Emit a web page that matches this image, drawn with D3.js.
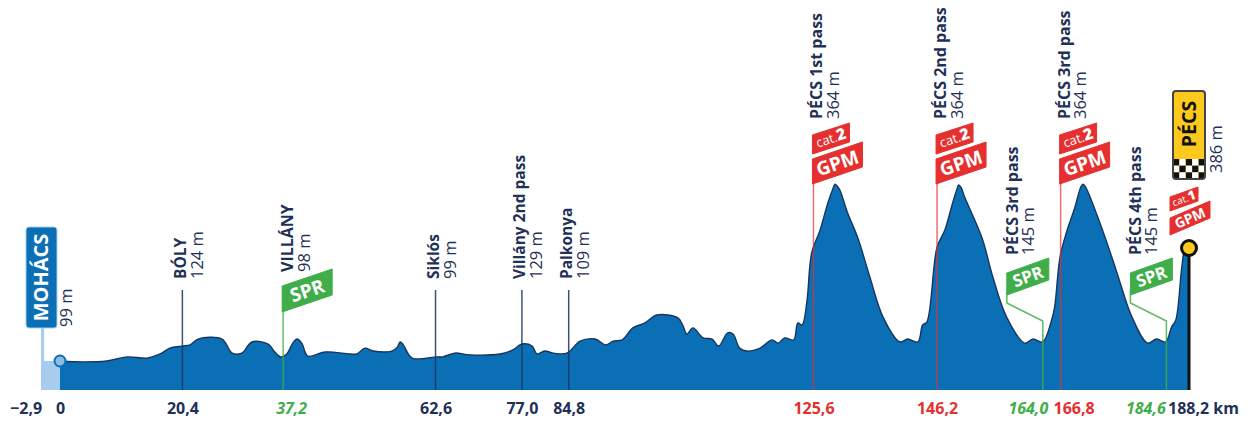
<!DOCTYPE html>
<html>
<head>
<meta charset="utf-8">
<script src="https://cdn.jsdelivr.net/npm/d3@7"></script>
<style>
  html, body { margin: 0; padding: 0; background: #fff; }
  svg { display: block; }
  text { font-family: "Open Sans", "Noto Sans", sans-serif; }
  .axis-label text { font-size: 16px; font-weight: 700; }
</style>
</head>
<body>
<div id="profile"></div>
<script>
// profile
var profileKm = [0, 3.8, 7.8, 11.2, 14.5, 16.7, 18.3, 20.3, 21.7, 23, 27, 28.7, 30.3, 32, 34.7, 35.8, 36.8, 37.8, 38.8, 39.5, 40.3,
  41.3, 44.2, 48.3, 49.5, 50.8, 52.2, 55.3, 56.2, 56.7, 57.2, 58.7, 62.8, 63.8, 65.8, 68.3, 73.3, 75.5, 77, 78.7, 79.5, 80.8, 82.2,
  84.5, 86.7, 89.2, 91, 92.2, 93.7, 95.5, 97.5, 99.5, 103, 103.8, 104.5, 105.5, 107.2, 108.7, 109.8, 111.3, 112.2, 113.3, 114.5,
  116.7, 118.7, 119.7, 120.8, 122.3, 123, 123.7, 124.5, 125.3, 126.7, 128, 128.8, 129.2, 129.6, 130, 131.3, 133, 135, 137.2, 140, 141.3, 143,
  143.8, 144.5, 146.2, 147.5, 148.8, 149.5, 149.8, 150.2, 150.8, 153.7, 155.5, 157.8, 160.8, 162.2, 163.8, 165.3, 165.8, 166.7, 167.8, 169.2, 170.1, 170.5, 170.9, 171.7,
  174.2, 176.2, 178.7, 181.3, 182.8, 184.3, 185.3, 186, 187, 187.5, 188.2];
var profileElev = [99, 96, 99, 113, 109, 123, 143, 150, 154, 174, 174, 126, 126, 164, 157, 130, 113, 123, 160, 174, 160,
  116, 130, 123, 123, 143, 133, 133, 145, 164, 155, 109, 113, 113, 126, 120, 123, 137, 157, 150, 123, 133, 126,
  126, 167, 174, 154, 167, 171, 212, 229, 256, 246, 222, 191, 212, 178, 174, 150, 195, 191, 143, 133,
  143, 171, 160, 178, 171, 229, 222, 301, 468, 546, 639, 685, 703, 695, 683, 604, 519, 386, 249, 164, 174, 164,
  222, 232, 488, 546, 639, 685, 700, 692, 659, 519, 386, 249, 160, 174, 164, 239, 283, 454, 540, 625, 690, 703, 695, 659,
  522, 400, 249, 160, 174, 164, 215, 239, 420, 478, 488];

var tickKm = [-2.9, 0, 20.4, 37.2, 62.6, 77.0, 84.8, 125.6, 146.2, 164.0, 166.8, 184.6, 188.2];
var tickText = ["−2,9", "0", "20,4", "37,2", "62,6", "77,0", "84,8", "125,6", "146,2", "164,0", "166,8", "184,6", "188,2 km"];
var tickKind = ["plain", "plain", "plain", "spr", "plain", "plain", "plain", "gpm", "gpm", "spr", "gpm", "spr", "plain"];

var pointKm = [20.4, 37.2, 62.6, 77.0, 84.8, 125.6, 146.2, 164.0, 166.8, 184.6];
var pointName = ["BÓLY", "VILLÁNY", "Siklós", "Villány 2nd pass", "Palkonya", "PÉCS 1st pass", "PÉCS 2nd pass", "PÉCS 3rd pass", "PÉCS 3rd pass", "PÉCS 4th pass"];
var pointElev = ["124 m", "98 m", "99 m", "129 m", "109 m", "364 m", "364 m", "145 m", "364 m", "145 m"];
var pointKind = ["plain", "spr", "plain", "plain", "plain", "gpm", "gpm", "sprBent", "gpm", "sprBent"];

var startKm = -2.9, startName = "MOHÁCS", startElev = "99 m";
var finishKm = 188.2, finishName = "PÉCS", finishElev = "386 m";

var NAVY = "#1f3157", BLUE = "#0b6fb6", DARK = "#17365f", LIGHT = "#a6cdee",
    RED = "#e5302f", GREEN = "#3fae4a", YELLOW = "#fdc91c";

var width = 1250, height = 424;
var svg = d3.select("#profile").append("svg").attr("width", width).attr("height", height);

var x = d3.scaleLinear().domain([0, 188.2]).range([60, 1189]);
var y = d3.scaleLinear().domain([0, 700]).range([390, 185]);

// light lead-in before km 0
svg.append("rect").attr("x", x(startKm) - 1.5).attr("y", y(99)).attr("width", x(0) - x(startKm) + 1.5).attr("height", y(0) - y(99)).attr("fill", LIGHT);
svg.append("rect").attr("x", x(startKm) - 1.5).attr("y", 328).attr("width", 3).attr("height", 62).attr("fill", LIGHT);

var idx = d3.range(profileKm.length);
var curve = d3.curveCatmullRom.alpha(0.5);
svg.append("path")
  .attr("d", d3.area().x(function(i) { return x(profileKm[i]); }).y0(y(0)).y1(function(i) { return y(profileElev[i]); }).curve(curve)(idx))
  .attr("fill", BLUE);
svg.append("path")
  .attr("d", d3.line().x(function(i) { return x(profileKm[i]); }).y(function(i) { return y(profileElev[i]); }).curve(curve)(idx))
  .attr("fill", "none").attr("stroke", DARK).attr("stroke-width", 1.4).attr("stroke-linejoin", "round");

// rotated label helper
function vtext(px, py, str, size, weight, fill, anchor) {
  return svg.append("text")
    .attr("transform", "translate(" + px + "," + py + ") rotate(-90)")
    .attr("text-anchor", anchor || "start")
    .attr("font-size", size).attr("font-weight", weight).attr("fill", fill)
    .text(str);
}

// slanted flag, left edge at fx, bl = y of the bottom left corner
function flag(fx, bl, w, h, rise, fill, str, size, italic) {
  svg.append("path")
    .attr("d", "M" + fx + "," + bl + "L" + fx + "," + (bl - h) + "L" + (fx + w) + "," + (bl - h - rise) + "L" + (fx + w) + "," + (bl - rise) + "Z")
    .attr("fill", fill).attr("stroke", fill).attr("stroke-width", 1).attr("stroke-linejoin", "round");
  var a = Math.atan(rise / w) * 180 / Math.PI;
  var t = svg.append("text")
    .attr("transform", "translate(" + (fx + w / 2) + "," + (bl - h / 2 - rise / 2) + ") rotate(" + (-a) + ")")
    .attr("text-anchor", "middle").attr("dy", "0.36em")
    .attr("font-size", size).attr("font-weight", 700).attr("fill", "#fff");
  if (italic) {
    // "cat." is light, the number after it is heavy
    t.append("tspan").attr("font-weight", 400).text(str.slice(0, 4));
    t.append("tspan").attr("font-weight", 800).attr("font-size", size + 3).text(str.slice(4));
  } else {
    t.text(str);
  }
}

function gpm(px, num) {
  flag(px - 1, 184, 50, 25, 17, RED, "GPM", 19);
  flag(px - 1, 154, 37, 19, 12, RED, num, 13, true);
}

// label offsets: [name x, elevation x, bottom y, name size]
var labelPos = {
  plain: [3.5, 20.5, 279, 15.5], spr: [10, 27, 272, 16], gpm: [9, 25.5, 119, 16], sprBent: [-26, -10, 255, 16]
};

pointKm.forEach(function(km, i) {
  var kind = pointKind[i], px = x(km);
  var pos = labelPos[kind];
  if (kind == "plain") {
    svg.append("line").attr("x1", px).attr("x2", px).attr("y1", 290).attr("y2", 390)
      .attr("stroke", DARK).attr("stroke-width", 1.5).attr("stroke-opacity", 0.85);
  } else if (kind == "spr") {
    svg.append("line").attr("x1", px).attr("x2", px).attr("y1", 305).attr("y2", 390)
      .attr("stroke", GREEN).attr("stroke-width", 1.5).attr("stroke-opacity", 0.8);
    flag(px - 1, 312, 50, 26, 17, GREEN, "SPR", 19);
  } else if (kind == "sprBent") {
    svg.append("path")
      .attr("d", "M" + (px - 37) + ",290L" + (px - 37) + ",303L" + (px - 1) + ",321L" + (px - 1) + ",390")
      .attr("fill", "none").attr("stroke", GREEN).attr("stroke-width", 1.5).attr("stroke-opacity", 0.85);
    flag(px - 37, 295, 42, 22, 15, GREEN, "SPR", 17);
  } else {
    svg.append("line").attr("x1", px).attr("x2", px).attr("y1", 175).attr("y2", 390)
      .attr("stroke", RED).attr("stroke-width", 1.5).attr("stroke-opacity", 0.7);
    gpm(px, "cat.2");
  }
  vtext(px + pos[0], pos[2], pointName[i], pos[3], 700, NAVY);
  vtext(px + pos[1], pos[2], pointElev[i], 16.5, 400, NAVY);
});

// start marker
svg.append("rect").attr("x", 26).attr("y", 227).attr("width", 31).attr("height", 101).attr("rx", 3)
  .attr("fill", BLUE).attr("stroke", LIGHT).attr("stroke-width", 1);
vtext(48, 277.5, startName, 20, 700, "#fff", "middle");
vtext(72, 327, startElev, 16.5, 400, NAVY);
svg.append("circle").attr("cx", x(0)).attr("cy", y(99)).attr("r", 5.5)
  .attr("fill", "#8dbce9").attr("stroke", BLUE).attr("stroke-width", 2);

// finish marker
var fx = x(finishKm);
svg.append("line").attr("x1", fx).attr("x2", fx).attr("y1", 248).attr("y2", 390).attr("stroke", "#111").attr("stroke-width", 3);
svg.append("circle").attr("cx", fx).attr("cy", 248).attr("r", 7.5)
  .attr("fill", YELLOW).attr("stroke", "#111").attr("stroke-width", 3);
flag(fx - 19, 235, 40, 17, 17, RED, "GPM", 14);
flag(fx - 19, 211, 28, 14, 10, RED, "cat.1", 10, true);

svg.append("rect").attr("x", 1173).attr("y", 91).attr("width", 32).attr("height", 88).attr("rx", 3)
  .attr("fill", YELLOW);
// checker pattern of the finish flag
var cols = d3.range(5), rows = d3.range(3);
rows.forEach(function(r) {
  cols.forEach(function(c) {
    svg.append("rect").attr("x", 1173 + c * 6.4).attr("y", 159 + r * 6.67).attr("width", 6.4).attr("height", 6.67)
      .attr("fill", (r + c) % 2 == 0 ? "#111" : "#fff");
  });
});
svg.append("rect").attr("x", 1173).attr("y", 91).attr("width", 32).attr("height", 88).attr("rx", 3)
  .attr("fill", "none").attr("stroke", "#444").attr("stroke-width", 2);
vtext(1195.5, 124, finishName, 19.5, 700, "#111", "middle");
vtext(1222, 173, finishElev, 16.5, 400, NAVY);

// km axis
var tickNudge = { "−2,9": -17, "37,2": 8, "164,0": -16, "166,8": 13, "184,6": -22, "188,2 km": 14 };
var axis = d3.axisBottom(x)
  .tickValues(tickKm)
  .tickSize(0)
  .tickPadding(0)
  .tickFormat(function(d, i) { return tickText[i]; });
var axisG = svg.append("g").attr("class", "axis-label").attr("transform", "translate(0,403)").call(axis);
axisG.select(".domain").remove();
axisG.selectAll("text")
  .attr("y", 0).attr("dy", "0.34em").attr("font-family", null).attr("font-size", null)
  .attr("fill", function(d, i) { return tickKind[i] == "spr" ? GREEN : tickKind[i] == "gpm" ? RED : NAVY; })
  .attr("font-style", function(d, i) { return tickKind[i] == "spr" ? "italic" : "normal"; })
  .attr("dx", function(d, i) { return tickNudge[tickText[i]] || 0; })
  .attr("transform", "translate(0,6)");
</script>
</body>
</html>
